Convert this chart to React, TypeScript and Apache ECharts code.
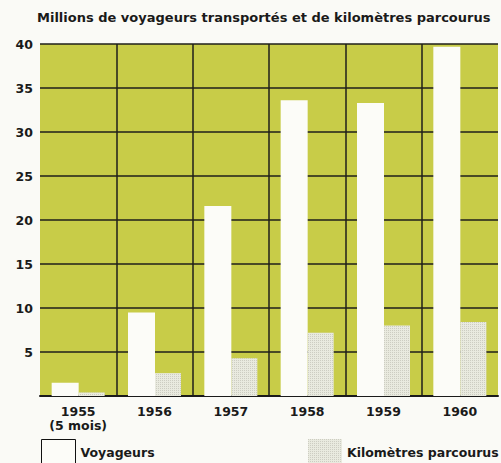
import React, { useEffect, useRef } from "react";
import * as echarts from "echarts";

const categories = ["1955\n(5 mois)", "1956", "1957", "1958", "1959", "1960"];
const voyageurs = [1.5, 9.5, 21.6, 33.6, 33.3, 39.7];
const kilometres = [0.4, 2.6, 4.3, 7.2, 8.0, 8.4];
const yMin = 0;
const yMax = 40;
const yStep = 5;

const FONT = "DejaVu Sans";

export default function App() {
  const ref = useRef<HTMLDivElement>(null);
  useEffect(() => {
    if (!ref.current) return;
    const chart = echarts.init(ref.current, undefined, { renderer: "svg" });
    const dotDecal = {
      symbol: "rect",
      symbolSize: 1,
      dashArrayX: [1, 1],
      dashArrayY: [1, 1],
      color: "rgba(170,172,160,0.45)",
    };
    chart.setOption({
      animation: false,
      backgroundColor: "#fafaf6",
      title: {
        text: "Millions de voyageurs transportés et de kilomètres parcourus",
        left: 32,
        top: 6,
        textStyle: { fontFamily: FONT, fontWeight: "bold", fontSize: 13, color: "#1a1a1a" },
      },
      legend: [
        {
          data: [{ name: "Voyageurs", itemStyle: { borderColor: "#111", borderWidth: 1, color: "#fcfcf8" } }],
          left: 41,
          top: 439,
          padding: 0,
          icon: "rect",
          itemWidth: 34,
          itemHeight: 26,
          textStyle: { fontFamily: FONT, fontWeight: "bold", fontSize: 12.5, color: "#1a1a1a" },
        },
        {
          data: ["Kilomètres parcourus"],
          left: 308,
          top: 439,
          padding: 0,
          icon: "rect",
          itemWidth: 34,
          itemHeight: 26,
          textStyle: { fontFamily: FONT, fontWeight: "bold", fontSize: 12.5, color: "#1a1a1a" },
        },
      ],
      grid: {
        left: 40,
        right: 3,
        top: 44,
        bottom: 67,
        show: true,
        backgroundColor: "#c8cc48",
        borderWidth: 0,
      },
      xAxis: {
        type: "category",
        data: categories,
        axisLine: { show: true, lineStyle: { color: "#1a1a1a", width: 2 } },
        axisTick: { show: false },
        axisLabel: {
          interval: 0,
          margin: 8,
          fontFamily: FONT,
          fontWeight: "bold",
          fontSize: 12.5,
          lineHeight: 14,
          color: "#1a1a1a",
        },
        splitLine: {
          show: true,
          interval: 0,
          showMinLine: false,
          showMaxLine: false,
          lineStyle: { color: "#1f1f1a", width: 1.5 },
        },
      },
      yAxis: {
        type: "value",
        min: yMin,
        max: yMax,
        interval: yStep,
        axisLine: { show: false },
        axisTick: { show: false },
        axisLabel: {
          margin: 7,
          fontFamily: FONT,
          fontWeight: "bold",
          fontSize: 12.5,
          color: "#1a1a1a",
          formatter: (v: number) => (v === 0 ? "" : String(v)),
        },
        splitLine: { show: true, lineStyle: { color: "#1f1f1a", width: 1.5 } },
      },
      series: [
        {
          name: "Voyageurs",
          type: "bar",
          data: voyageurs,
          barWidth: 27,
          barGap: "0%",
          itemStyle: { color: "#fcfcf8" },
        },
        {
          name: "Kilomètres parcourus",
          type: "bar",
          data: kilometres,
          barWidth: 26,
          barGap: "0%",
          itemStyle: { color: "#e9eadf", decal: dotDecal },
        },
      ],
    });
    return () => chart.dispose();
  }, []);
  return <div ref={ref} style={{ width: 501, height: 463, position: "absolute", left: 0, top: 0 }} />;
}
